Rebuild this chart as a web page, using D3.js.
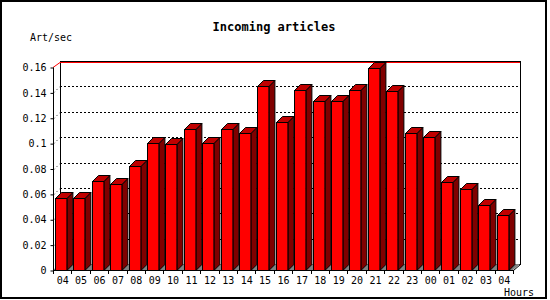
<!DOCTYPE html>
<html>
<head>
<meta charset="utf-8">
<script src="https://cdn.jsdelivr.net/npm/d3@7"></script>
<style>
  body { margin: 0; background: #fff; }
  text { font-family: "DejaVu Sans Mono", monospace; fill: #000; }
</style>
</head>
<body>
<div id="chart"></div>
<script>
// hours on the x axis, articles per second on the y axis
const hours = ["04", "05", "06", "07", "08", "09", "10", "11", "12", "13", "14", "15", "16",
  "17", "18", "19", "20", "21", "22", "23", "00", "01", "02", "03", "04"];
const artPerSec = [0.057, 0.057, 0.070, 0.068, 0.082, 0.100, 0.099, 0.111, 0.100, 0.111, 0.108, 0.145, 0.117,
  0.142, 0.133, 0.133, 0.142, 0.159, 0.141, 0.108, 0.105, 0.069, 0.064, 0.051, 0.043];
const yTicks = [0, 0.02, 0.04, 0.06, 0.08, 0.1, 0.12, 0.14, 0.16];
const yTickLabels = ["0", "0.02", "0.04", "0.06", "0.08", "0.1", "0.12", "0.14", "0.16"];

const width = 550, height = 300;
const pLeft = 53, pRight = 513, pBottom = 270, pTop = 67;
const ddx = 7, ddy = 6;     // depth of the plot box
const bdx = 6, bdy = 6;     // depth of each bar

const svg = d3.select("#chart").append("svg")
  .attr("width", width).attr("height", height);

svg.append("rect")
  .attr("x", 1).attr("y", 1).attr("width", 545).attr("height", 297)
  .attr("fill", "#fff").attr("stroke", "#000").attr("stroke-width", 2);

const x = d3.scaleBand().domain(d3.range(hours.length)).range([pLeft, pRight]);
const y = d3.scaleLinear().domain([0, 0.16]).range([pBottom, pTop]);

// back wall
svg.append("rect")
  .attr("x", pLeft + ddx + 0.5).attr("y", pTop - ddy + 0.5)
  .attr("width", pRight - pLeft).attr("height", pBottom - pTop)
  .attr("fill", "#fff").attr("stroke", "#000");

// grid lines on the back wall plus their run back from the front axis
const grid = yTicks.filter(d => d > 0 && d < 0.16);
svg.selectAll("line.grid").data(grid).join("line")
  .attr("class", "grid")
  .attr("x1", pLeft + ddx).attr("x2", pRight + ddx)
  .attr("y1", d => Math.round(y(d)) - ddy + 0.5).attr("y2", d => Math.round(y(d)) - ddy + 0.5)
  .attr("stroke", "#000").attr("stroke-dasharray", "2,2");
svg.selectAll("line.gdiag").data(grid).join("line")
  .attr("class", "gdiag")
  .attr("x1", pLeft + 1).attr("x2", pLeft + ddx)
  .attr("y1", d => Math.round(y(d)) + 0.5).attr("y2", d => Math.round(y(d)) - ddy + 0.5)
  .attr("stroke", "#000").attr("stroke-dasharray", "1,3");

// top line in red
svg.append("path")
  .attr("d", `M${pLeft},${Math.round(y(0.16)) + 0.5}L${pLeft + ddx},${Math.round(y(0.16)) - ddy + 1.5}H${pRight + ddx}`)
  .attr("fill", "none").attr("stroke", "#ff0000");

// floor
svg.append("path")
  .attr("d", `M${pLeft},${pBottom}H${pRight}l${ddx},${-ddy}H${pLeft + ddx}Z`)
  .attr("fill", "#808080");
svg.append("line")
  .attr("x1", pRight + 0.5).attr("y1", pBottom + 0.5)
  .attr("x2", pRight + ddx + 0.5).attr("y2", pBottom - ddy + 0.5)
  .attr("stroke", "#000");

// bars
const bw = x.bandwidth() - bdx - 1;
const bars = svg.append("g").selectAll("g").data(artPerSec).join("g");
bars.append("path")
  .attr("d", (d, i) => {
    const x0 = Math.round(x(i)) + 2.5 + bw, yt = Math.round(y(d)) + 0.5;
    return `M${x0},${pBottom + 0.5}l${bdx},${-bdy}V${yt - bdy}l${-bdx},${bdy}Z`;
  })
  .attr("fill", "#800000").attr("stroke", "#000");
bars.append("path")
  .attr("d", (d, i) => {
    const x0 = Math.round(x(i)) + 2.5, yt = Math.round(y(d)) + 0.5;
    return `M${x0},${yt}l${bdx},${-bdy}h${bw}l${-bdx},${bdy}Z`;
  })
  .attr("fill", "#c00000").attr("stroke", "#000");
bars.append("rect")
  .attr("x", (d, i) => Math.round(x(i)) + 2.5)
  .attr("y", d => Math.round(y(d)) + 0.5)
  .attr("width", bw)
  .attr("height", d => pBottom - Math.round(y(d)))
  .attr("fill", "#ff0000").attr("stroke", "#000");

// y axis
const yAxis = d3.axisLeft(y).tickValues(yTicks)
  .tickFormat((d, i) => yTickLabels[i]).tickSize(3).tickPadding(4);
const gy = svg.append("g").attr("transform", `translate(${pLeft + 0.5},0.5)`).call(yAxis);
gy.select(".domain").attr("d", `M0,${y(0.16)}V${pBottom}`);
gy.selectAll("text").attr("font-size", 10).attr("font-family", "DejaVu Sans Mono");

// x axis: ticks at band edges, labels at band centres
svg.append("line")
  .attr("x1", pLeft).attr("x2", pRight + 1)
  .attr("y1", pBottom + 0.5).attr("y2", pBottom + 0.5).attr("stroke", "#000");
svg.selectAll("line.xtick").data(d3.range(hours.length + 1)).join("line")
  .attr("class", "xtick")
  .attr("x1", i => Math.round(pLeft + i * x.step()) + 0.5)
  .attr("x2", i => Math.round(pLeft + i * x.step()) + 0.5)
  .attr("y1", pBottom).attr("y2", pBottom + 4).attr("stroke", "#000");
svg.selectAll("text.xlab").data(hours).join("text")
  .attr("class", "xlab")
  .attr("x", (d, i) => x(i) + x.bandwidth() / 2 + 0.5)
  .attr("y", 284)
  .attr("text-anchor", "middle").attr("font-size", 10)
  .text(d => d);

svg.append("text").attr("x", 274).attr("y", 31)
  .attr("text-anchor", "middle").attr("font-size", 12).attr("font-weight", "bold")
  .text("Incoming articles");
svg.append("text").attr("x", 30).attr("y", 41).attr("font-size", 10).text("Art/sec");
svg.append("text").attr("x", 504).attr("y", 295.5).attr("font-size", 10).text("Hours");
</script>
</body>
</html>
